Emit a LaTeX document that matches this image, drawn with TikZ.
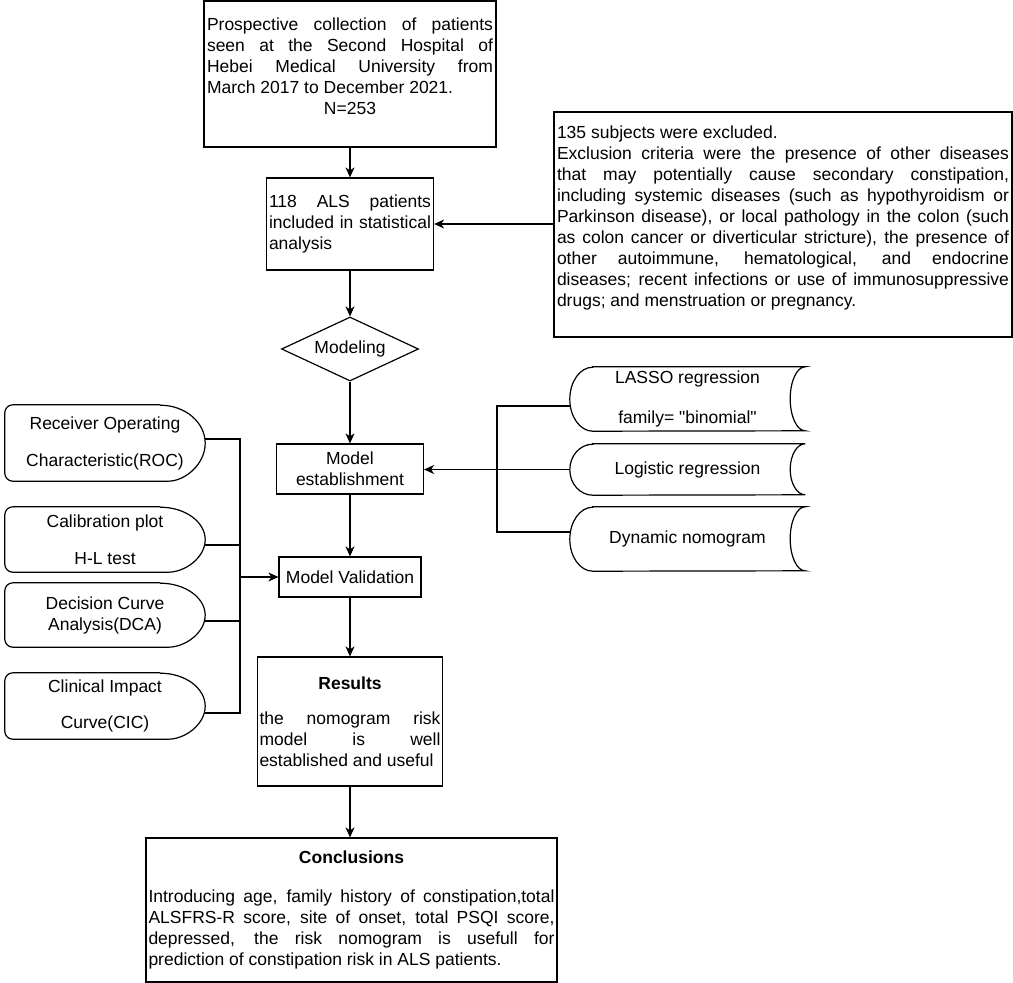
\documentclass[tikz,border=0pt]{standalone}
\usepackage{fontspec}
\setmainfont{Liberation Sans}[Ligatures=TeXOff]
\usetikzlibrary{shapes.geometric,arrows.meta}
\tolerance=10000
\hyphenpenalty=10000

\tikzset{
  every node/.style={font=\fontsize{17.5}{21}\selectfont, inner sep=2pt},
  box/.style={draw, line width=1.2pt, rectangle},
  link/.style={line width=1.2pt},
  flow/.style={line width=1.2pt, -{Stealth[length=10pt,width=9pt,inset=3pt]}},
  outline/.style={line width=1.2pt, rounded corners=8pt},
  store/.style={line width=1.2pt},
  lshape/.style={minimum width=200pt, align=center, inner sep=0pt},
  rshape/.style={minimum width=235pt, align=center, inner sep=0pt}
}

\begin{document}
\begin{tikzpicture}[x=1pt,y=-1pt]
\useasboundingbox (0,0) rectangle (1013,983);

% main column
\node[box, minimum width=292pt, minimum height=146pt, inner sep=0pt] (collect) at (350,74) {\parbox[c][140pt][t]{286pt}{\vspace*{14pt}Prospective collection of patients\linebreak seen at the Second Hospital of\linebreak Hebei Medical University from\linebreak March 2017 to December 2021.\par\centering N=253}};
\node[box, minimum width=167pt, minimum height=92pt, text width=162pt, inner xsep=2.5pt, align=justify] (incl) at (350,224) {118 ALS patients\linebreak included in statistical\linebreak analysis};
\node[draw, diamond, aspect=2.14, minimum width=137pt, minimum height=64pt, inner sep=0pt, line width=1.2pt] (modeling) at (350,349) {Modeling};
\node[box, minimum width=147pt, minimum height=50pt, align=center] (estab) at (350,469) {Model\\establishment};
\node[box, minimum width=142pt, minimum height=40pt] (valid) at (350,577) {Model Validation};
\node[box, minimum width=185pt, minimum height=129pt, text width=181pt, align=justify] (results) at (350,721.5) {{\centering\bfseries Results\par}\vspace{14pt}the nomogram risk\linebreak model is well\linebreak established and useful};
\node[box, minimum width=411pt, minimum height=144pt, text width=406pt, align=justify] (concl) at (351.5,910) {{\centering\bfseries Conclusions\par}\vspace{18pt}Introducing age, family history of constipation,total\linebreak ALSFRS-R score, site of onset, total PSQI score,\linebreak depressed, the risk nomogram is usefull for\linebreak prediction of constipation risk in ALS patients.};

% exclusion
\node[box, minimum width=458pt, minimum height=225pt, inner sep=0pt] (excl) at (783,224.5) {\parbox[c][219pt][t]{452pt}{\vspace*{11pt}135 subjects were excluded.\par Exclusion criteria were the presence of other diseases\linebreak that may potentially cause secondary constipation,\linebreak including systemic diseases (such as hypothyroidism or\linebreak Parkinson disease), or local pathology in the colon (such\linebreak as colon cancer or diverticular stricture), the presence of\linebreak other autoimmune, hematological, and endocrine\linebreak diseases; recent infections or use of immunosuppressive\linebreak drugs; and menstruation or pregnancy.}};

% validation methods
\node[lshape, minimum height=76pt] (roc) at (105,443) {Receiver Operating\\[16pt]Characteristic(ROC)};
\node[lshape, minimum height=65pt] (calib) at (105,539.5) {Calibration plot\\[16pt]H-L test};
\node[lshape, minimum height=64pt] (dca) at (105,615) {Decision Curve\\Analysis(DCA)};
\node[lshape, minimum height=66pt] (cic) at (105,706) {Clinical Impact\\[15pt]Curve(CIC)};
\draw[outline] ([xshift=-45pt]roc.north east) -- (roc.north west) -- (roc.south west) -- ([xshift=-45pt]roc.south east) arc[start angle=-90, end angle=90, x radius=45pt, y radius=38pt];
\draw[outline] ([xshift=-45pt]calib.north east) -- (calib.north west) -- (calib.south west) -- ([xshift=-45pt]calib.south east) arc[start angle=-90, end angle=90, x radius=45pt, y radius=32.5pt];
\draw[outline] ([xshift=-45pt]dca.north east) -- (dca.north west) -- (dca.south west) -- ([xshift=-45pt]dca.south east) arc[start angle=-90, end angle=90, x radius=45pt, y radius=32pt];
\draw[outline] ([xshift=-45pt]cic.north east) -- (cic.north west) -- (cic.south west) -- ([xshift=-45pt]cic.south east) arc[start angle=-90, end angle=90, x radius=45pt, y radius=33pt];

% modelling methods
\node[rshape, minimum height=64pt] (lasso) at (687.5,399) {LASSO regression\\[19pt]family= "binomial"};
\node[rshape, minimum height=51pt] (logit) at (687.5,469.5) {Logistic regression};
\node[rshape, minimum height=64pt] (dyn) at (687.5,539) {Dynamic nomogram};
\draw[store] ([xshift=23pt]lasso.north west) -- (lasso.north east) arc[start angle=90, end angle=270, x radius=15pt, y radius=32pt] -- ([xshift=23pt]lasso.south west) arc[start angle=270, end angle=90, x radius=23pt, y radius=32pt] -- cycle;
\draw[store] ([xshift=23pt]logit.north west) -- (logit.north east) arc[start angle=90, end angle=270, x radius=15pt, y radius=25.5pt] -- ([xshift=23pt]logit.south west) arc[start angle=270, end angle=90, x radius=23pt, y radius=25.5pt] -- cycle;
\draw[store] ([xshift=23pt]dyn.north west) -- (dyn.north east) arc[start angle=90, end angle=270, x radius=15pt, y radius=32pt] -- ([xshift=23pt]dyn.south west) arc[start angle=270, end angle=90, x radius=23pt, y radius=32pt] -- cycle;

% connectors
\coordinate (ljoin) at (240,577);
\coordinate (rjoin) at (497,469);
\draw[flow] (collect) -- (incl);
\draw[flow] (excl.west |- incl.east) -- (incl.east);
\draw[flow] (incl) -- (modeling);
\draw[flow] (modeling) -- (estab);
\draw[flow] (estab) -- (valid);
\draw[flow] (valid) -- (results);
\draw[flow] (results.south) -- (results.south |- concl.north);
\draw[link] ([yshift=4pt]roc.east) -- ([yshift=4pt]roc.east -| ljoin) -- ([yshift=-7pt]cic.east -| ljoin) -- ([yshift=-7pt]cic.east);
\draw[link] ([yshift=-5.5pt]calib.east) -- ([yshift=-5.5pt]calib.east -| ljoin);
\draw[link] ([yshift=-6pt]dca.east) -- ([yshift=-6pt]dca.east -| ljoin);
\draw[flow] (ljoin) -- (valid.west);
\draw[link] ([yshift=-7pt]lasso.west) -- ([yshift=-7pt]lasso.west -| rjoin) -- ([yshift=7pt]dyn.west -| rjoin) -- ([yshift=7pt]dyn.west);
\draw[flow] (logit.west) -- (logit.west -| estab.east);
\end{tikzpicture}
\end{document}
